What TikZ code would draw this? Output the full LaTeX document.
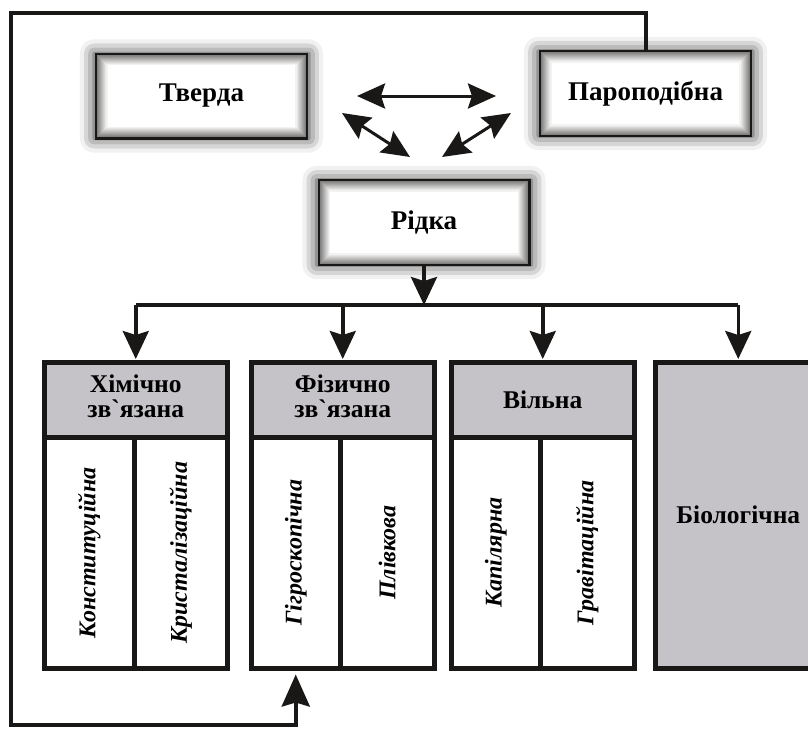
\documentclass[tikz,border=0pt]{standalone}
\usepackage{fontspec}
\setmainfont{Liberation Serif}
\usetikzlibrary{arrows.meta,shadows.blur}
\definecolor{ink}{RGB}{26,24,22}
\definecolor{boxgray}{RGB}{197,195,200}
% inner gray rim of the three state boxes
\newcommand\innerglow[1]{%
  \foreach \k in {0,...,9}{%
    \pgfmathsetmacro\off{3+\k}%
    \pgfmathsetmacro\shd{55-5.5*\k}%
    \draw[ink!\shd, line width=1.2pt]
      ([xshift=\off pt,yshift=-\off pt]#1.north west) rectangle
      ([xshift=-\off pt,yshift=\off pt]#1.south east);}}
\newcommand\twolines[2]{\raisebox{-4pt}{\begin{tabular}{@{}c@{}}#1\\#2\end{tabular}}}

\begin{document}
\begin{tikzpicture}[x=1pt,y=-1pt,
    statebox/.style={draw=ink, line width=5pt, fill=white,
      minimum width=208pt, minimum height=82pt,
      font=\fontsize{27}{29}\selectfont\bfseries,
      blur shadow={shadow xshift=0pt, shadow yshift=0pt,
        shadow blur radius=14pt, shadow opacity=85, shadow scale=1.03}},
    headbox/.style={draw=ink, line width=4.5pt, fill=boxgray, anchor=north west,
      minimum width=183pt, minimum height=75pt, inner sep=0pt, align=center,
      font=\fontsize{25.5}{24}\selectfont\bfseries},
    colbox/.style={draw=ink, line width=4.5pt, fill=white, anchor=north west,
      minimum height=231pt, inner sep=0pt,
      font=\fontsize{24}{26}\selectfont\bfseries\itshape},
    arr/.style={draw=ink, line width=3.5pt,
      -{Stealth[length=28pt,width=26pt,inset=4pt]}},
    dbl/.style={draw=ink, line width=3pt,
      {Stealth[length=28pt,width=25pt,inset=4pt]}-{Stealth[length=28pt,width=25pt,inset=4pt]}},
    backline/.style={draw=ink, line width=4pt}]
  \useasboundingbox (0,0) rectangle (808,728);
  \clip (0,0) rectangle (808,728);

  \node[statebox] (tverda) at (201.5,96) {Тверда};
  \node[statebox] (paro) at (645.5,93.5) {Пароподібна};
  \node[statebox] (ridka) at (424,222.5) {Рідка};
  \innerglow{tverda}
  \innerglow{paro}
  \innerglow{ridka}

  % groups of water
  \node[headbox] (chem) at (42,360) {\twolines{Хімічно}{зв\textasciigrave язана}};
  \node[colbox, minimum width=90pt] (konst) at (42,435) {\rotatebox{90}{Конституційна}};
  \node[colbox, minimum width=93pt] (kryst) at (132,435) {\rotatebox{90}{Кристалізаційна}};

  \node[headbox] (phys) at (249,360) {\twolines{Фізично}{зв\textasciigrave язана}};
  \node[colbox, minimum width=89pt] (gigro) at (249,435) {\rotatebox{90}{Гігроскопічна}};
  \node[colbox, minimum width=94pt] (plivk) at (338,435) {\rotatebox{90}{Плівкова}};

  \node[headbox] (vilna) at (449,360) {Вільна};
  \node[colbox, minimum width=89pt] (kapil) at (449,435) {\rotatebox{90}{Капілярна}};
  \node[colbox, minimum width=94pt] (grav) at (538,435) {\rotatebox{90}{Гравітаційна}};

  \node[headbox, fill=boxgray, minimum width=166pt, minimum height=306pt] (bio) at (653,360) {Біологічна};

  % arrows between the states
  \draw[dbl, shorten <=49pt, shorten >=43pt] (tverda.east) -- (tverda.east -| paro.west);
  \draw[dbl] ([shift={(34,17)}]tverda.east) -- ([shift={(-14,-22)}]ridka.north);
  \draw[dbl] ([shift={(18,-22)}]ridka.north) -- ([shift={(-28,19.5)}]paro.west);

  % liquid into four groups
  \coordinate (bus) at (0,305);
  \draw[backline, line width=3.5pt] (chem.north |- bus) -- (bio.north |- bus);
  \draw[arr] (ridka.south) -- (ridka.south |- bus);
  \foreach \n in {chem,phys,vilna,bio}
    \draw[arr, shorten >=1pt] (\n.north |- bus) -- (\n.north);

  % vapour back to hygroscopic
  \coordinate (tl) at (11,13);
  \coordinate (bl) at (11,725);
  \draw[backline, -{Stealth[length=32pt,width=28pt,inset=4pt]}]
    (paro.north) |- (tl) -- (bl) -| ([yshift=-4pt]gigro.south);
\end{tikzpicture}
\end{document}
